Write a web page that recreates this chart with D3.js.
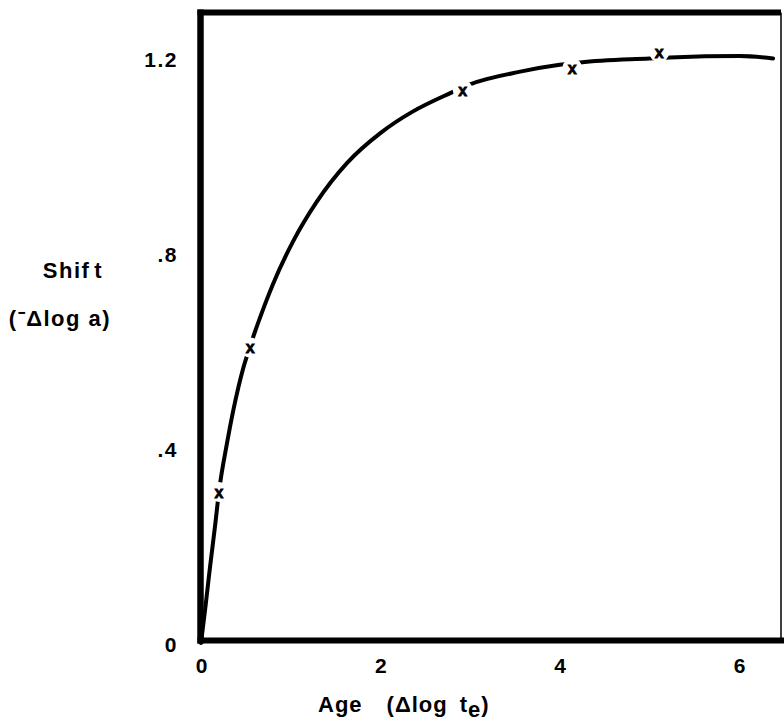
<!DOCTYPE html>
<html>
<head>
<meta charset="utf-8">
<script src="https://cdn.jsdelivr.net/npm/d3@7"></script>
<style>
  html, body { margin: 0; padding: 0; background: #fff; }
  svg { display: block; }
  text { font-family: "Liberation Sans", Arial, sans-serif; font-weight: bold; fill: #000; }
</style>
</head>
<body>
<script>
// Shift of the creep curve with ageing time
const curveAge   = [0, 0.05, 0.10, 0.16, 0.20, 0.29, 0.36, 0.47, 0.55, 0.71, 0.80, 1.03, 1.29, 1.63, 2.00, 2.36, 2.78, 3.00, 3.56, 4.00, 4.23, 5.00, 5.23, 6.01, 6.38];
const curveShift = [0, 0.075, 0.155, 0.245, 0.31, 0.41, 0.477, 0.563, 0.61, 0.693, 0.735, 0.825, 0.905, 0.985, 1.046, 1.09, 1.128, 1.146, 1.172, 1.186, 1.191, 1.199, 1.201, 1.204, 1.199];

// measured points
const pointAge   = [0.20, 0.55, 2.92, 4.14, 5.11];
const pointShift = [0.31, 0.606, 1.134, 1.179, 1.212];

const xTicks = [0, 2, 4, 6];
const xTickLabels = ["0", "2", "4", "6"];
const yTicks = [0, 0.4, 0.8, 1.2];
const yTickLabels = ["0", ".4", ".8", "1.2"];

const W = 784, H = 726;
const svg = d3.select("body").append("svg").attr("width", W).attr("height", H);

const x = d3.scaleLinear().domain([0, 6]).range([201, 739]);
const y = d3.scaleLinear().domain([0, 1.2]).range([643, 58]);

// frame
const frameL = 200.5, frameT = 12.5, frameB = 640.5, frameR = 781;
svg.append("line").attr("x1", frameL).attr("x2", frameL).attr("y1", frameT - 3).attr("y2", frameB + 3)
  .attr("stroke", "#000").attr("stroke-width", 6.5);
svg.append("line").attr("x1", frameL - 3).attr("x2", frameR).attr("y1", frameT).attr("y2", frameT)
  .attr("stroke", "#000").attr("stroke-width", 6);
svg.append("line").attr("x1", frameL - 3).attr("x2", W).attr("y1", frameB).attr("y2", frameB)
  .attr("stroke", "#000").attr("stroke-width", 6);
svg.append("line").attr("x1", frameR).attr("x2", frameR).attr("y1", frameT).attr("y2", frameB)
  .attr("stroke", "#000").attr("stroke-width", 1.5);

// axes (labels only)
const xAxis = d3.axisBottom(x).tickValues(xTicks).tickSize(0)
  .tickFormat((d, i) => xTickLabels[i]);
const gx = svg.append("g").attr("transform", "translate(0,655)").call(xAxis);
gx.select(".domain").remove();
gx.selectAll("text").attr("font-size", 21).attr("dy", "0.71em")
  .style("font-family", "'Liberation Sans', Arial, sans-serif").style("font-weight", "bold");

const yAxis = d3.axisLeft(y).tickValues(yTicks).tickSize(0).tickPadding(0)
  .tickFormat((d, i) => yTickLabels[i]);
const gy = svg.append("g").attr("transform", "translate(178,0)").call(yAxis);
gy.select(".domain").remove();
gy.selectAll("text").attr("font-size", 21).attr("dy", "0.4em").attr("letter-spacing", 1.5)
  .style("font-family", "'Liberation Sans', Arial, sans-serif").style("font-weight", "bold");

// curve
const line = d3.line().x((d, i) => x(curveAge[i])).y((d, i) => y(curveShift[i]))
  .curve(d3.curveMonotoneX);
svg.append("path").datum(curveAge).attr("d", line)
  .attr("fill", "none").attr("stroke", "#000").attr("stroke-width", 4)
  .attr("stroke-linecap", "round");

// gaps in the curve around each measured point
svg.selectAll("circle.gap").data(pointAge).join("circle").attr("class", "gap")
  .attr("cx", (d) => x(d)).attr("cy", (d, i) => y(pointShift[i])).attr("r", 10)
  .attr("fill", "#fff");

svg.selectAll("text.pt").data(pointAge).join("text").attr("class", "pt")
  .attr("x", (d) => x(d)).attr("y", (d, i) => y(pointShift[i]))
  .attr("text-anchor", "middle").attr("dy", "0.36em")
  .attr("font-size", 16).attr("stroke", "#000").attr("stroke-width", 0.8)
  .text("x");

// axis titles
svg.append("text").attr("x", 73).attr("y", 278).attr("text-anchor", "middle")
  .attr("font-size", 22).attr("letter-spacing", 1.5)
  .call(t => { t.append("tspan").text("Shif"); t.append("tspan").attr("dx", 4).text("t"); });
svg.append("text").attr("x", 60).attr("y", 326).attr("text-anchor", "middle")
  .attr("font-size", 22).attr("letter-spacing", 1.5)
  .text("(\u207b\u0394log a)");

const xt = svg.append("text").attr("x", 318).attr("y", 712).attr("font-size", 22).attr("letter-spacing", 1);
xt.append("tspan").text("Age");
xt.append("tspan").attr("dx", 24).text("(\u0394log");
xt.append("tspan").attr("dx", 12).text("t");
xt.append("tspan").attr("dy", 5).attr("font-size", 22).text("e");
xt.append("tspan").attr("dy", -5).text(")");
</script>
</body>
</html>
